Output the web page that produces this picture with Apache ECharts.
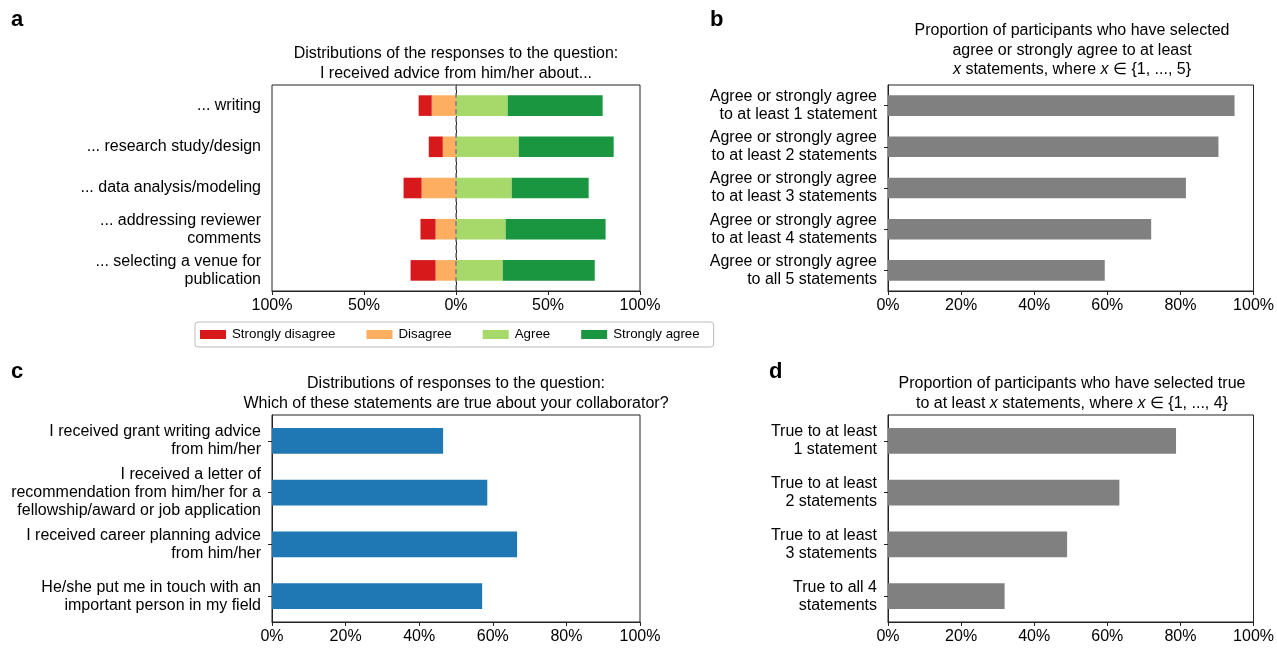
<!DOCTYPE html>
<html>
<head>
<meta charset="utf-8">
<script src="https://cdn.jsdelivr.net/npm/echarts@6/dist/echarts.min.js"></script>
<style>
html,body{margin:0;padding:0;background:#fff;}
#chart{width:1277px;height:648px;}
</style>
</head>
<body>
<div id="chart"></div>
<script>
// ---- Data ----
const catsA = ['... writing', '... research study/design', '... data analysis/modeling', '... addressing reviewer\ncomments', '... selecting a venue for\npublication'];
const stronglyDisagree = [7.1, 7.6, 9.8, 8.2, 13.6];
const disagree = [13.2, 7.2, 18.7, 11.1, 11.1];
const agree = [28.1, 34.1, 30.3, 27.0, 25.4];
const stronglyAgree = [51.6, 51.6, 41.8, 54.3, 50.0];

const catsB = ['Agree or strongly agree\nto at least 1 statement', 'Agree or strongly agree\nto at least 2 statements', 'Agree or strongly agree\nto at least 3 statements', 'Agree or strongly agree\nto at least 4 statements', 'Agree or strongly agree\nto all 5 statements'];
const valuesB = [94.8, 90.4, 81.5, 72.0, 59.3];

const catsC = ['I received grant writing advice\nfrom him/her', 'I received a letter of\nrecommendation from him/her for a\nfellowship/award or job application', 'I received career planning advice\nfrom him/her', 'He/she put me in touch with an\nimportant person in my field'];
const valuesC = [46.5, 58.5, 66.6, 57.1];

const catsD = ['True to at least\n1 statement', 'True to at least\n2 statements', 'True to at least\n3 statements', 'True to all 4\nstatements'];
const valuesD = [78.8, 63.3, 49.0, 31.9];

const legendNames = ['Strongly disagree', 'Disagree', 'Agree', 'Strongly agree'];

// ---- Styling ----
const FONT = "'Liberation Sans', Arial, Helvetica, sans-serif";
const colors = {sd: '#d7191c', d: '#fdae61', a: '#a6d96a', sa: '#1a9641'};
const grids = [
  {left: 272, top: 85, width: 368, height: 206},
  {left: 888, top: 85, width: 369, height: 206},
  {left: 272, top: 415, width: 368, height: 207},
  {left: 888, top: 415, width: 369, height: 207}
];

function xAxisDef(i, min, max, interval, fmt) {
  return {
    type: 'value', gridIndex: i, min: min, max: max, interval: interval,
    axisLine: {show: true, lineStyle: {color: '#222', width: 1}},
    axisTick: {show: true, length: 4, lineStyle: {color: '#222'}},
    splitLine: {show: false},
    axisLabel: {color: '#000', fontSize: 16, fontFamily: FONT, margin: 7, formatter: fmt}
  };
}
function yAxisDef(i, cats) {
  return {
    type: 'category', gridIndex: i, data: cats, inverse: true,
    axisLine: {show: true, lineStyle: {color: '#222', width: 1}},
    axisTick: {show: true, length: 4, alignWithLabel: true, lineStyle: {color: '#222'}},
    splitLine: {show: false},
    axisLabel: {color: '#000', fontSize: 16, fontFamily: FONT, margin: 11, lineHeight: 18, align: 'right'}
  };
}
const pct = v => Math.abs(v) + '%';

const titleStyle = {color: '#000', fontSize: 16, fontFamily: FONT, fontWeight: 'normal', lineHeight: 20.5,
  rich: {i: {fontStyle: 'italic', fontSize: 16, fontFamily: FONT, color: '#000'}}};

const option = {
  backgroundColor: '#fff',
  animation: false,
  title: [
    {text: 'Distributions of the responses to the question:\nI received advice from him/her about...', left: 456, top: 43, padding: 0, textAlign: 'center', textStyle: titleStyle},
    {text: 'Proportion of participants who have selected\nagree or strongly agree to at least\n{i|x} statements, where {i|x} \u2208 {1, ..., 5}', left: 1072, top: 21, padding: 0, textAlign: 'center', textStyle: Object.assign({}, titleStyle, {lineHeight: 19.5})},
    {text: 'Distributions of responses to the question:\nWhich of these statements are true about your collaborator?', left: 456, top: 373, padding: 0, textAlign: 'center', textStyle: titleStyle},
    {text: 'Proportion of participants who have selected true\nto at least {i|x} statements, where {i|x} \u2208 {1, ..., 4}', left: 1072, top: 373, padding: 0, textAlign: 'center', textStyle: titleStyle}
  ],
  graphic: [
    {type: 'text', x: 11, y: 9, style: {text: 'a', font: 'bold 22px ' + FONT, fill: '#000'}},
    {type: 'text', x: 710, y: 9, style: {text: 'b', font: 'bold 22px ' + FONT, fill: '#000'}},
    {type: 'text', x: 11, y: 361, style: {text: 'c', font: 'bold 22px ' + FONT, fill: '#000'}},
    {type: 'text', x: 769, y: 361, style: {text: 'd', font: 'bold 22px ' + FONT, fill: '#000'}}
  ],
  legend: {
    data: legendNames, left: 195, top: 322, orient: 'horizontal',
    icon: 'rect', itemWidth: 26, itemHeight: 9, itemGap: 31,
    padding: [6, 14, 6, 5], borderColor: '#bbb', borderWidth: 1, borderRadius: 3,
    textStyle: {color: '#000', fontSize: 13.3, fontFamily: FONT, padding: [0, 0, 0, 1]}
  },
  grid: grids.map(g => Object.assign({show: true, borderColor: '#222', borderWidth: 1, backgroundColor: 'transparent'}, g)),
  xAxis: [
    xAxisDef(0, -100, 100, 50, pct),
    xAxisDef(1, 0, 100, 20, pct),
    xAxisDef(2, 0, 100, 20, pct),
    xAxisDef(3, 0, 100, 20, pct)
  ],
  yAxis: [yAxisDef(0, catsA), yAxisDef(1, catsB), yAxisDef(2, catsC), yAxisDef(3, catsD)],
  series: [
    {name: 'Disagree', type: 'bar', stack: 'a', xAxisIndex: 0, yAxisIndex: 0, barWidth: '50%', itemStyle: {color: colors.d}, data: disagree.map(v => -v)},
    {name: 'Strongly disagree', type: 'bar', stack: 'a', xAxisIndex: 0, yAxisIndex: 0, barWidth: '50%', itemStyle: {color: colors.sd}, data: stronglyDisagree.map(v => -v)},
    {name: 'Agree', type: 'bar', stack: 'a', xAxisIndex: 0, yAxisIndex: 0, barWidth: '50%', itemStyle: {color: colors.a}, data: agree,
      markLine: {silent: true, symbol: 'none', label: {show: false}, lineStyle: {color: '#7f7f7f', width: 1.5, type: [5, 3]}, data: [{xAxis: 0}]}},
    {name: 'Strongly agree', type: 'bar', stack: 'a', xAxisIndex: 0, yAxisIndex: 0, barWidth: '50%', itemStyle: {color: colors.sa}, data: stronglyAgree},
    {name: 'b', type: 'bar', xAxisIndex: 1, yAxisIndex: 1, barWidth: '50%', itemStyle: {color: '#808080'}, data: valuesB},
    {name: 'c', type: 'bar', xAxisIndex: 2, yAxisIndex: 2, barWidth: '50%', itemStyle: {color: '#1f77b4'}, data: valuesC},
    {name: 'd', type: 'bar', xAxisIndex: 3, yAxisIndex: 3, barWidth: '50%', itemStyle: {color: '#808080'}, data: valuesD}
  ]
};

const chart = echarts.init(document.getElementById('chart'), null, {renderer: 'canvas'});
chart.setOption(option);
</script>
</body>
</html>
